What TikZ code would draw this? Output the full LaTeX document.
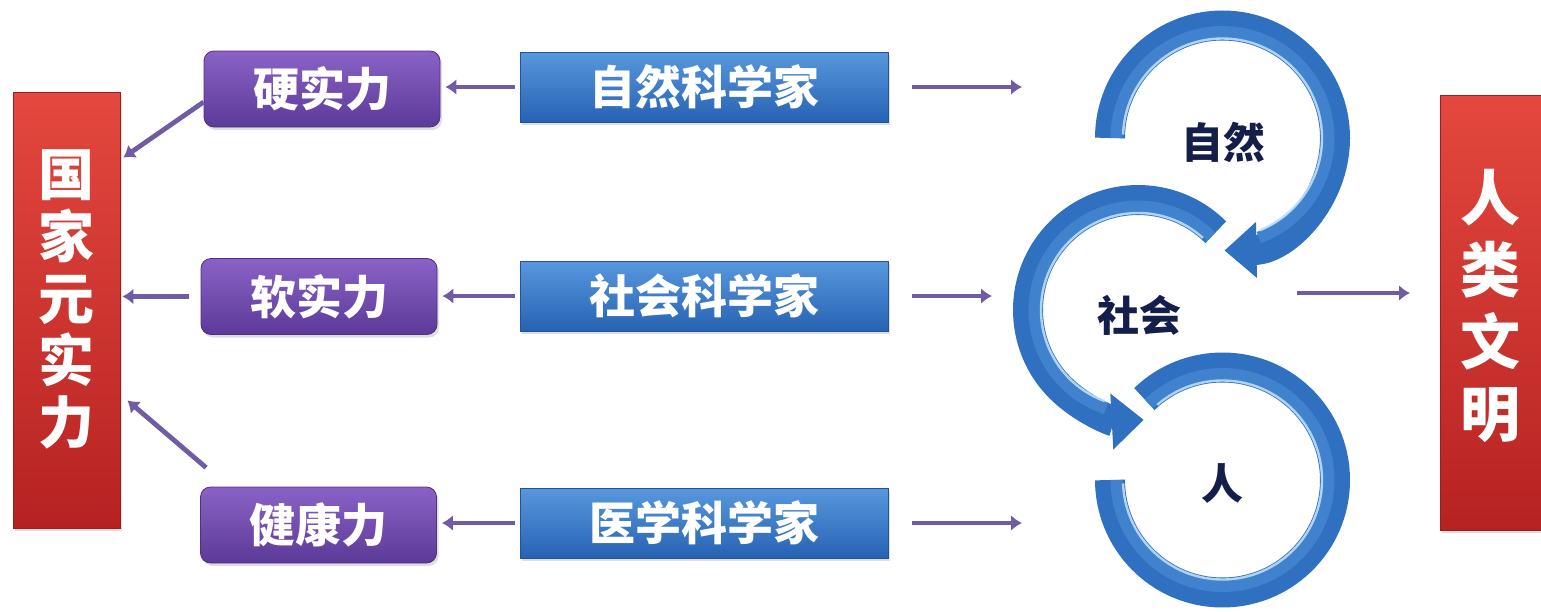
\documentclass[tikz,border=0pt]{standalone}
\usepackage{fontspec}
\newfontfamily\cjk{Noto Sans CJK SC}
\usetikzlibrary{arrows.meta,shadows}
\definecolor{arr}{RGB}{112,92,165}
\definecolor{purT}{RGB}{138,98,198}
\definecolor{purB}{RGB}{92,58,152}
\definecolor{bluT}{RGB}{88,152,222}
\definecolor{bluB}{RGB}{38,98,178}
\definecolor{redT}{RGB}{228,72,62}
\definecolor{redB}{RGB}{182,34,34}
\definecolor{ringc}{RGB}{48,112,192}
\definecolor{ringm}{RGB}{64,130,206}
\definecolor{ringlt}{RGB}{190,222,248}
\definecolor{navy}{RGB}{20,30,75}
\begin{document}
\begin{tikzpicture}[x=0.5pt,y=-0.5pt,
  purpbox/.style={rounded corners=5pt, top color=purT, bottom color=purB, draw=purB!85!black, line width=0.4pt,
    minimum width=118pt, minimum height=38pt, inner sep=0pt, text=white,
    font=\cjk\bfseries\fontsize{23}{23}\selectfont,
    drop shadow={opacity=0.25, shadow xshift=1pt, shadow yshift=-1.5pt}},
  bluebox/.style={top color=bluT, bottom color=bluB, draw=bluB!85!black, line width=0.4pt,
    minimum width=184pt, minimum height=35pt, inner sep=0pt, text=white,
    font=\cjk\bfseries\fontsize{23}{23}\selectfont,
    drop shadow={opacity=0.25, shadow xshift=1pt, shadow yshift=-1.5pt}},
  redbox/.style={top color=redT, bottom color=redB, draw=redB!85!black, line width=0.4pt, inner sep=0pt,
    drop shadow={opacity=0.25, shadow xshift=1pt, shadow yshift=-1.5pt}},
  redtext/.style={text=white, align=center, inner sep=0pt},
  ringtext/.style={text=navy, font=\cjk\bfseries\fontsize{21}{21}\selectfont, inner sep=0pt},
  conn/.style={draw=arr, line width=2.4pt, -{Latex[length=5.5pt,width=8pt]}},
  ringbase/.style={draw=ringc, line width=15pt},
  ringmid/.style={draw=ringm, line width=6pt},
  ringhi/.style={draw=ringlt, line width=1.2pt, opacity=0.9},
  ringtip/.style={-{Triangle[length=16pt,width=27pt]}}
]
\useasboundingbox (0,0) rectangle (1541,611);

% red boxes
\node[redbox, minimum width=53.5pt, minimum height=218pt] (redL) at (66.5,310) {};
\node[redtext, font=\cjk\bfseries\fontsize{28}{31}\selectfont] (redLt) at (66.5,299) {国\\家\\元\\实\\力};
\node[redbox, minimum width=50.5pt, minimum height=217.5pt] (redR) at (1490.5,312.5) {};
\node[redtext, font=\cjk\bfseries\fontsize{30}{36}\selectfont] (redRt) at (1490.5,306) {人\\类\\文\\明};

% purple boxes
\node[purpbox] (p1) at (322,89) {硬实力};
\node[purpbox] (p2) at (319,296.5) {软实力};
\node[purpbox] (p3) at (318.5,525) {健康力};

% blue boxes
\node[bluebox] (b1) at (704,87) {自然科学家};
\node[bluebox] (b2) at (704,296) {社会科学家};
\node[bluebox] (b3) at (704,523) {医学科学家};

% ring centres
\coordinate (c1) at (1222.5,138);
\coordinate (c2) at (1138,310);
\coordinate (c3) at (1222.5,480);

% ring 3 (人)
\path[ringbase] (c3) ++(-134:112.5) arc[start angle=-134, end angle=180, radius=112.5];
\path[ringmid] (c3) ++(-134:106) arc[start angle=-134, end angle=180, radius=106];
\path[ringhi] (c3) ++(-131:99.5) arc[start angle=-131, end angle=178, radius=99.5];
% ring 2 (社会)
\path[ringbase, ringtip] (c2) ++(-45:110) arc[start angle=-45, end angle=-273, radius=110];
\path[ringmid] (c2) ++(-45:103.5) arc[start angle=-45, end angle=-252, radius=103.5];
\path[ringhi] (c2) ++(-48:97) arc[start angle=-48, end angle=-250, radius=97];
% ring 1 (自然)
\path[ringbase, ringtip] (c1) ++(180:112.5) arc[start angle=180, end angle=449, radius=112.5];
\path[ringmid] (c1) ++(180:106) arc[start angle=180, end angle=430, radius=106];
\path[ringhi] (c1) ++(182:99.5) arc[start angle=182, end angle=428, radius=99.5];

\node[ringtext] (t1) at (1223,142) {自然};
\node[ringtext] (t2) at (1139,315) {社会};
\node[ringtext] (t3) at (1222,484) {人};

% free ends of connectors
\coordinate (e1) at (1022,87);
\coordinate (e2) at (992,296);
\coordinate (e3) at (1022,523);
\coordinate (s4) at (1297,293);
\coordinate (e4) at (1410,293);

% connectors
\draw[conn, shorten <=2.5pt, shorten >=2.5pt] (b1.west) -- (p1.east |- b1.west);
\draw[conn, shorten <=2.5pt, shorten >=2.5pt] (b2.west) -- (p2.east |- b2.west);
\draw[conn, shorten <=2.5pt, shorten >=2.5pt] (b3.west) -- (p3.east |- b3.west);
\draw[conn, shorten <=12pt] (b1.east) -- (e1);
\draw[conn, shorten <=12pt] (b2.east) -- (e2);
\draw[conn, shorten <=12pt] (b3.east) -- (e3);
\draw[conn] ([yshift=-6.5pt]p1.west) -- ([xshift=1.5pt,yshift=-33pt]redL.north east);
\draw[conn, shorten <=6pt, shorten >=1pt] (p2.west) -- (redL.east |- p2.west);
\draw[conn] ([xshift=3pt,yshift=9.5pt]p3.north west) -- ([xshift=3.5pt,yshift=64pt]redL.south east);
\draw[conn] (s4) -- (e4);
\end{tikzpicture}
\end{document}
